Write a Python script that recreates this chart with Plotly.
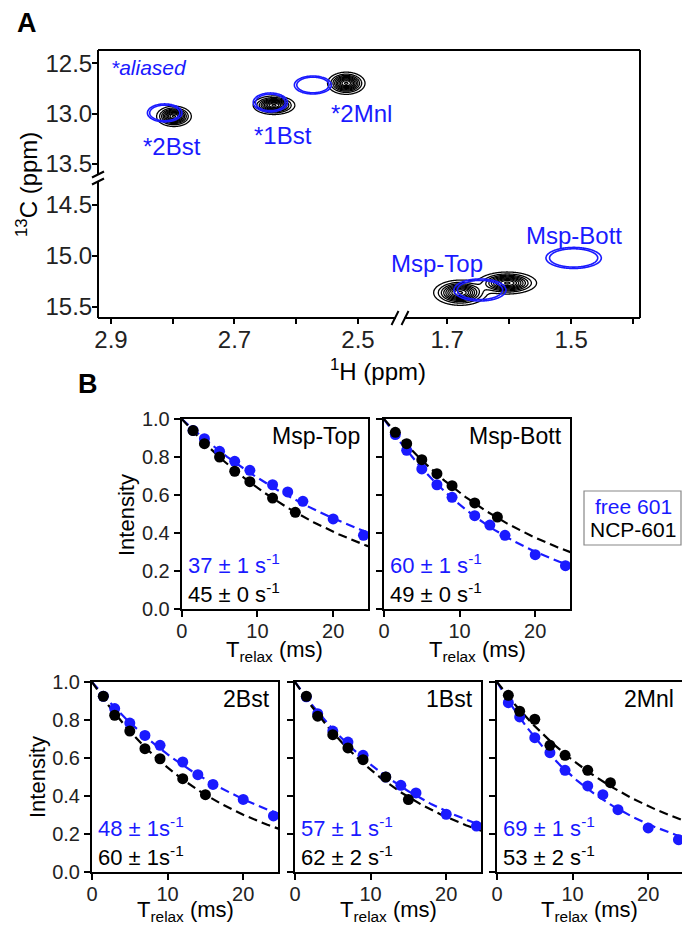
import numpy as np
import plotly.graph_objects as go

W, H = 682, 926
BLUE = "#1a1aff"
FONT = "Liberation Sans, Arial, sans-serif"

# ---------------- Panel A: peak table (ppm) ----------------
# aliased region (upper-left)
alias_labels = ["*2Bst", "*1Bst", "*2Mnl"]
alias_ncp_h = [2.798, 2.636, 2.519]
alias_ncp_c = [13.028, 12.918, 12.700]
alias_ncp_wh = [0.0125, 0.0150, 0.0135]
alias_ncp_wc = [0.045, 0.041, 0.049]
alias_free_h = [2.813, 2.642, 2.573]
alias_free_c = [12.994, 12.890, 12.717]
alias_free_wh = [0.0168, 0.0166, 0.0180]
alias_free_wc = [0.0535, 0.0565, 0.0535]
# methyl region (lower-right)
msp_labels = ["Msp-Top", "Msp-Bott"]
msp_ncp_h = [1.679, 1.603]
msp_ncp_c = [15.360, 15.265]
msp_ncp_wh = [0.019, 0.021]
msp_ncp_wc = [0.055, 0.048]
msp_free_h = [1.647, 1.496]
msp_free_c = [15.333, 15.019]
msp_free_wh = [0.0252, 0.0268]
msp_free_wc = [0.065, 0.062]

# axis ranges (broken axes)
xA_left = [2.921, 2.432]
xA_right = [1.776, 1.389]
yA_top = [13.64, 12.37]
yA_bot = [15.608, 14.235]
xA_ticks_left = [2.9, 2.8, 2.7, 2.6, 2.5]
xA_text_left = ["2.9", "", "2.7", "", "2.5"]
xA_ticks_right = [1.7, 1.6, 1.5, 1.4]
xA_text_right = ["1.7", "", "1.5", ""]
yA_ticks_top = [12.5, 13.0, 13.5]
yA_ticks_bot = [14.5, 15.0, 15.5]

# ---------------- Panel B: relaxation data ----------------
panel_names = ["Msp-Top", "Msp-Bott", "2Bst", "1Bst", "2Mnl"]
t_ncp = [1.5, 3, 5, 7, 9, 12, 15]
t_free = [1.5, 3, 5, 7, 9, 12, 14, 16, 20, 24]
ncp_msp_top = [0.939, 0.870, 0.800, 0.725, 0.670, 0.584, 0.509]
free_msp_top = [0.940, 0.896, 0.830, 0.777, 0.730, 0.654, 0.616, 0.567, 0.474, 0.388]
ncp_msp_bott = [0.930, 0.870, 0.786, 0.712, 0.649, 0.558, 0.484]
free_msp_bott = [0.918, 0.835, 0.737, 0.654, 0.588, 0.491, 0.442, 0.388, 0.286, 0.228]
ncp_2bst = [0.925, 0.825, 0.742, 0.649, 0.596, 0.491, 0.407]
free_2bst = [0.925, 0.860, 0.784, 0.719, 0.667, 0.579, 0.512, 0.461, 0.382, 0.295]
ncp_1bst = [0.925, 0.820, 0.723, 0.653, 0.591, 0.500, 0.381]
free_1bst = [0.922, 0.833, 0.742, 0.684, 0.614, 0.500, 0.456, 0.416, 0.304, 0.242]
ncp_2mnl = [0.930, 0.846, 0.804, 0.667, 0.614, 0.535, 0.470]
free_2mnl = [0.891, 0.816, 0.707, 0.628, 0.535, 0.453, 0.407, 0.328, 0.232, 0.170]
free_rate = [37, 60, 48, 57, 69]
free_err = [1, 1, 1, 1, 1]
ncp_rate = [45, 49, 60, 62, 53]
ncp_err = [0, 0, 1, 2, 2]

ncp_sets = [ncp_msp_top, ncp_msp_bott, ncp_2bst, ncp_1bst, ncp_2mnl]
free_sets = [free_msp_top, free_msp_bott, free_2bst, free_1bst, free_2mnl]


def px(x):
    return x / W


def py(y):
    return 1 - y / H


def spectrum(xg, yg, hs, cs, whs, wcs):
    X, Y = np.meshgrid(xg, yg)
    Z = np.zeros_like(X)
    for h, c, wh, wc in zip(hs, cs, whs, wcs):
        Z += np.exp(-((X - h) ** 2 / (2 * wh ** 2) + (Y - c) ** 2 / (2 * wc ** 2)))
    return Z


fig = go.Figure()

black_cs = [[0, "black"], [1, "black"]]
blue_cs = [[0, BLUE], [1, BLUE]]

xg1 = np.linspace(min(xA_left), max(xA_left), 400)
yg1 = np.linspace(min(yA_top), max(yA_top), 300)
xg2 = np.linspace(min(xA_right), max(xA_right), 400)
yg2 = np.linspace(min(yA_bot), max(yA_bot), 300)

regions = [
    ("x", "y", xg1, yg1, (alias_ncp_h, alias_ncp_c, alias_ncp_wh, alias_ncp_wc),
     (alias_free_h, alias_free_c, alias_free_wh, alias_free_wc)),
    ("x2", "y2", xg2, yg2, (msp_ncp_h, msp_ncp_c, msp_ncp_wh, msp_ncp_wc),
     (msp_free_h, msp_free_c, msp_free_wh, msp_free_wc)),
]
for xa, ya, xg, yg, ncp, free in regions:
    fig.add_trace(go.Contour(
        x=xg, y=yg, z=spectrum(xg, yg, *ncp), xaxis=xa, yaxis=ya,
        contours=dict(coloring="lines", start=0.08, end=0.99, size=0.1),
        colorscale=black_cs, showscale=False, line=dict(width=1.3),
        hoverinfo="skip"))
    fig.add_trace(go.Contour(
        x=xg, y=yg, z=spectrum(xg, yg, *free), xaxis=xa, yaxis=ya,
        contours=dict(coloring="lines", start=0.25, end=0.36, size=0.1),
        colorscale=blue_cs, showscale=False, line=dict(width=1.6),
        hoverinfo="skip"))

# ---------------- Panel B traces ----------------
t_fit = np.linspace(0, 25, 126)
for i in range(5):
    xa = "x%d" % (i + 3)
    ya = "y%d" % (i + 3)
    fig.add_trace(go.Scatter(x=t_fit, y=np.exp(-free_rate[i] * t_fit / 1000.0),
                             mode="lines", line=dict(color=BLUE, width=2.2, dash="9px,5px"),
                             xaxis=xa, yaxis=ya, hoverinfo="skip", showlegend=False))
    fig.add_trace(go.Scatter(x=t_fit, y=np.exp(-ncp_rate[i] * t_fit / 1000.0),
                             mode="lines", line=dict(color="black", width=2.2, dash="9px,5px"),
                             xaxis=xa, yaxis=ya, hoverinfo="skip", showlegend=False))
    fig.add_trace(go.Scatter(x=t_free, y=free_sets[i], mode="markers",
                             marker=dict(color=BLUE, size=11),
                             xaxis=xa, yaxis=ya, showlegend=False, cliponaxis=False))
    fig.add_trace(go.Scatter(x=t_ncp, y=ncp_sets[i], mode="markers",
                             marker=dict(color="black", size=11),
                             xaxis=xa, yaxis=ya, showlegend=False, cliponaxis=False))

# ---------------- Layout ----------------
L, B, R = 98, 400, 640
T, BK, BOT = 50, 178, 318
tickfontA = dict(size=24, color="#222", family=FONT)
common = dict(showgrid=False, zeroline=False, automargin=False, ticks="outside",
              ticklen=5, tickwidth=1.6, tickcolor="black")
layout = dict(
    width=W, height=H, margin=dict(l=0, r=0, t=0, b=0),
    template="none", paper_bgcolor="white", plot_bgcolor="white",
    font=dict(family=FONT, color="black"), showlegend=False,
    xaxis=dict(domain=[px(L), px(B)], range=xA_left, anchor="y2", tickvals=xA_ticks_left,
               ticktext=xA_text_left, tickfont=tickfontA, showline=False,
               ticklabelstandoff=-5, **common),
    xaxis2=dict(domain=[px(B), px(R)], range=xA_right, anchor="y2", tickvals=xA_ticks_right,
                ticktext=xA_text_right, tickfont=tickfontA, showline=False,
                ticklabelstandoff=-5, **common),
    yaxis=dict(domain=[py(BK), py(T)], range=yA_top, anchor="x", tickvals=yA_ticks_top,
               ticktext=["12.5", "13.0", "13.5"], tickfont=tickfontA, showline=False,
               ticklabelstandoff=-5, **common),
    yaxis2=dict(domain=[py(BOT), py(BK)], range=yA_bot, anchor="x", tickvals=yA_ticks_bot,
                ticktext=["14.5", "15.0", "15.5"], tickfont=tickfontA, showline=False,
                ticklabelstandoff=-5, **common),
)

boxes = [(181.7, 368, 419, 609), (384, 570, 419, 609), (92, 278, 682, 872),
         (295, 481, 682, 872), (497, 683, 682, 872)]
tickfontB = dict(size=20, color="#222", family=FONT)
commonB = dict(showgrid=False, zeroline=False, automargin=False, ticks="outside",
               ticklen=6, tickwidth=1.6, tickcolor="black", showline=True,
               linewidth=2, linecolor="black")
for i, (x0, x1, y0, y1) in enumerate(boxes):
    n = i + 3
    xr = 24.6 if x1 <= W else 24.6 * (W - x0) / (x1 - x0)
    layout["xaxis%d" % n] = dict(domain=[px(x0), min(px(x1), 1.0)], range=[0, xr],
                                 anchor="y%d" % n, tickvals=[0, 10, 20], ticktext=["0", "10", "20"],
                                 tickfont=tickfontB, mirror=True, ticklabelstandoff=-3, **commonB)
    layout["yaxis%d" % n] = dict(domain=[py(y1), py(y0)], range=[0, 1.0], anchor="x%d" % n,
                                 tickvals=[0, 0.2, 0.4, 0.6, 0.8, 1.0],
                                 ticktext=["0.0", "0.2", "0.4", "0.6", "0.8", "1.0"],
                                 showticklabels=(i in (0, 2)), tickfont=tickfontB,
                                 mirror=(i != 4), **commonB)

fig.update_layout(**layout)

# ---------------- shapes (panel A frame with breaks, legend box) ----------------
shapes = []


def seg(x0, y0, x1, y1, w=2, color="black"):
    shapes.append(dict(type="line", xref="paper", yref="paper", x0=px(x0), y0=py(y0),
                       x1=px(x1), y1=py(y1), line=dict(color=color, width=w)))


seg(L, T, R, T)
seg(R, T, R, BOT)
seg(L, T, L, BK - 4)
seg(L, BK + 4, L, BOT)
seg(L, BOT, B - 4, BOT)
seg(B + 4, BOT, R, BOT)
seg(92, BK - 0.5, 104, BK - 6.5)
seg(92, BK + 6.5, 104, BK + 0.5)
seg(B - 8.5, BOT + 7, B - 1.5, BOT - 7)
seg(B + 1.5, BOT + 7, B + 8.5, BOT - 7)
shapes.append(dict(type="rect", xref="paper", yref="paper", x0=px(584), x1=px(681),
                   y0=py(545), y1=py(491), line=dict(color="#888", width=1.2)))
fig.update_layout(shapes=shapes)

# ---------------- annotations ----------------
ann = []


def text(x, y, s, size=22, color="black", xa="center", ya="middle", angle=0, bold=False, italic=False):
    if bold:
        s = "<b>%s</b>" % s
    if italic:
        s = "<i>%s</i>" % s
    ann.append(dict(x=px(x), y=py(y), xref="paper", yref="paper", text=s, showarrow=False,
                    xanchor=xa, yanchor=ya, textangle=angle,
                    font=dict(size=size, color=color, family=FONT)))


text(27, 23, "A", size=27, bold=True)
text(88, 384, "B", size=27, bold=True)
text(109, 68, "*aliased", size=21, color=BLUE, xa="left", italic=True)
alias_label_pos = [(172, 146), (283, 136), (361, 113)]
for lab, (x, y) in zip(alias_labels, alias_label_pos):
    text(x, y, lab, size=24, color=BLUE)
msp_label_pos = [(437, 263), (574, 236)]
for lab, (x, y) in zip(msp_labels, msp_label_pos):
    text(x, y, lab, size=24, color=BLUE)
text(27, 185, "<sup>13</sup>C (ppm)", size=24, angle=-90)
text(378, 370, "<sup>1</sup>H (ppm)", size=24)

for i, (x0, x1, y0, y1) in enumerate(boxes):
    text(min(x1, W) - 6, y0 + 17, panel_names[i], size=23, xa="right")
    sep = "" if i == 2 else " "
    text(x0 + 4, y1 - 45, "%d ± %d%ss<sup>-1</sup>" % (free_rate[i], free_err[i], sep),
         color=BLUE, xa="left")
    text(x0 + 4, y1 - 16, "%d ± %d%ss<sup>-1</sup>" % (ncp_rate[i], ncp_err[i], sep),
         xa="left")
    yt = 651 if y1 < 700 else 911
    text((x0 + min(x1, W)) / 2, yt, "T<sub>relax</sub> (ms)")
text(126, 515, "Intensity", angle=-90)
text(37, 777, "Intensity", angle=-90)
text(633, 507, "free 601", size=21, color=BLUE)
text(633, 529, "NCP-601", size=21)
fig.update_layout(annotations=ann)

fig.write_html("out.html", config={"displayModeBar": False},
               post_script="document.body.style.margin='0';document.body.style.padding='0';")
